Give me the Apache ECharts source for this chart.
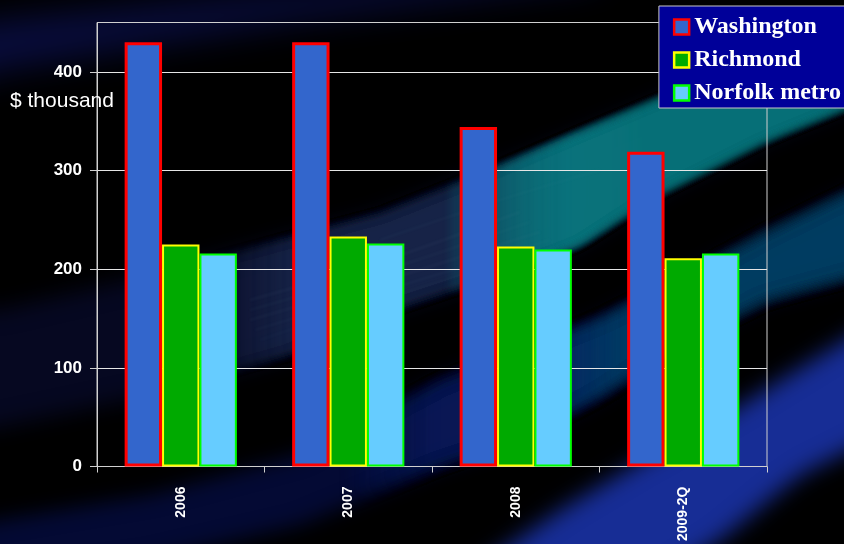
<!DOCTYPE html>
<html><head><meta charset="utf-8">
<script src="https://cdn.jsdelivr.net/npm/echarts@6/dist/echarts.min.js"></script>
<style>html,body{margin:0;padding:0;background:#000;}#c{width:844px;height:544px;}</style>
</head><body><div id="c"></div>
<script>
const categories = ['2006', '2007', '2008', '2009-2Q'];
const washington = [430, 430, 344, 319];
const richmond = [225, 233, 223, 211];
const norfolk = [216, 226, 220, 216];
const yTicks = [0, 100, 200, 300, 400];
const seriesNames = ['Washington', 'Richmond', 'Norfolk metro'];

const chart = echarts.init(document.getElementById('c'), null, {renderer: 'canvas'});

// ---- decorative background streaks (not data) ----
// shapes are drawn off-canvas; only their blurred shadow is visible
const OFF = 3000;
function interp(edge, x) {
  for (let i = 0; i < edge.length - 1; i++) {
    const a = edge[i], b = edge[i + 1];
    if (x >= a[0] && x <= b[0]) return a[1] + (b[1] - a[1]) * (x - a[0]) / (b[0] - a[0]);
  }
  return x < edge[0][0] ? edge[0][1] : edge[edge.length - 1][1];
}
function seg(up, lo, x0, x1, rgb, a, blur) {
  const top = [], bot = [];
  for (let x = x0; x < x1; x += 15) { top.push([x - OFF, interp(up, x)]); bot.push([x - OFF, interp(lo, x)]); }
  top.push([x1 - OFF, interp(up, x1)]); bot.push([x1 - OFF, interp(lo, x1)]);
  return {
    type: 'polygon', silent: true, z: -10,
    shape: {points: top.concat(bot.reverse())},
    style: {fill: 'rgb(' + rgb + ')', shadowColor: 'rgba(' + rgb + ',' + a + ')', shadowBlur: blur, shadowOffsetX: OFF}
  };
}
// stacked layers with staggered ends -> soft fade in/out along the band
function fade(up, lo, x0, x1, n, step, rgb, a, blur, fadeLeft, fadeRight) {
  const out = [];
  for (let i = 0; i < n; i++) {
    out.push(seg(up, lo, x0 + (fadeLeft ? i * step : 0), x1 - (fadeRight ? i * step : 0), rgb, a, blur));
  }
  return out;
}
function line(points, rgb, a, w, blur) {
  return {
    type: 'polyline', silent: true, z: -9,
    shape: {points: points.map(p => [p[0] - OFF, p[1]]), smooth: 0.3},
    style: {stroke: 'rgb(' + rgb + ')', lineWidth: w, fill: null,
      shadowColor: 'rgba(' + rgb + ',' + a + ')', shadowBlur: blur, shadowOffsetX: OFF}
  };
}
const upA = [[-60,312],[0,310],[150,275],[290,237],[380,213],[497,167],[580,132],[657,100],[767,55],[870,12]];
const loA = [[-60,435],[0,427],[150,395],[290,355],[380,315],[500,275],[580,245],[657,195],[767,140],[870,98]];
const upB = [[-60,532],[0,520],[150,495],[300,455],[440,380],[520,350],[600,318],[700,268],[767,232],[870,182]];
const loB = [[-60,592],[0,580],[150,560],[300,525],[440,467],[520,440],[600,397],[680,345],[767,300],[870,272]];
const upC = [[460,580],[560,510],[640,462],[720,418],[800,368],[870,325]];
const loC = [[460,640],[560,620],[640,590],[720,540],[800,475],[870,440]];
const upT = [[-60,30],[0,20],[300,-10],[600,-40]];
const loT = [[-60,90],[0,70],[300,20],[600,-20]];

const decor = [].concat(
  [seg(upT, loT, -60, 600, '14,20,95', 0.65, 35)],
  [seg(upA, loA, -60, 870, '16,22,95', 0.35, 22)],
  fade(upA, loA, 200, 640, 7, 15, '45,80,125', 0.08, 10, true, true),
  fade(upA, loA, 450, 870, 9, 14, '8,128,136', 0.2, 9, true, false),
  [seg(upB, loB, -60, 870, '8,18,95', 0.55, 20)],
  fade(upB, loB, 350, 660, 6, 15, '20,50,145', 0.08, 14, true, true),
  fade(upB, loB, 540, 870, 7, 15, '0,95,135', 0.12, 14, true, false),
  [seg(upC, loC, 460, 870, '25,50,165', 0.9, 22)],
  [
    line([[250,300],[380,262],[520,212]], '120,160,180', 0.1, 1.5, 3),
    line([[250,310],[380,272],[530,222]], '120,160,180', 0.08, 1.5, 3),
    line([[250,320],[380,282],[540,232]], '120,160,180', 0.09, 1.5, 3),
    line([[255,330],[380,292],[550,240]], '120,160,180', 0.07, 1.5, 3),
    line([[260,340],[380,300],[560,246]], '120,160,180', 0.06, 1.5, 3),
    line([[380,240],[500,200],[600,170]], '120,170,180', 0.07, 1.5, 3)
  ]
);

const option = {
  backgroundColor: '#000',
  animation: false,
  graphic: decor.concat([
    {
      type: 'text', left: 10, top: 91, z: 10,
      style: {text: '$ thousand', fill: '#ffffff', font: '21px "Liberation Sans", Arial, sans-serif'}
    }
  ]),
  grid: {left: 97, right: 77, top: 22.5, bottom: 76, containLabel: false,
    show: true, borderColor: '#d0d0d0', borderWidth: 1, backgroundColor: 'transparent'},
  legend: {
    orient: 'vertical', right: -3, top: 6,
    backgroundColor: '#000099', borderColor: '#c8c8c8', borderWidth: 1,
    padding: [9, 6, 3, 14], itemGap: 9, itemWidth: 15, itemHeight: 15,
    icon: 'rect',
    textStyle: {color: '#ffffff', fontFamily: '"Liberation Serif", "Times New Roman", serif', fontWeight: 'bold', fontSize: 24},
    data: [
      {name: seriesNames[0], itemStyle: {color: '#3366cc', borderColor: '#ff0000', borderWidth: 2.5}},
      {name: seriesNames[1], itemStyle: {color: '#00aa00', borderColor: '#ffff00', borderWidth: 2.5}},
      {name: seriesNames[2], itemStyle: {color: '#66ccff', borderColor: '#00ff00', borderWidth: 2.5}}
    ]
  },
  xAxis: {
    type: 'category', data: categories,
    axisLine: {lineStyle: {color: '#d0d0d0', width: 1}},
    axisTick: {show: true, length: 6, lineStyle: {color: '#d0d0d0'}},
    axisLabel: {rotate: 90, margin: 20, color: '#ffffff', fontWeight: 'bold', fontSize: 14,
      fontFamily: '"Liberation Sans", Arial, sans-serif'},
    splitLine: {show: false}
  },
  yAxis: {
    type: 'value', min: 0, max: 450, interval: 100,
    axisLine: {show: true, lineStyle: {color: '#d0d0d0', width: 1}},
    axisTick: {show: true, length: 7, customValues: yTicks, lineStyle: {color: '#d0d0d0'}},
    axisLabel: {margin: 15, color: '#ffffff', fontWeight: 'bold', fontSize: 17,
      fontFamily: '"Liberation Sans", Arial, sans-serif', customValues: yTicks},
    splitLine: {show: true, lineStyle: {color: '#e6e6e6', width: 1}}
  },
  series: [
    {name: seriesNames[0], type: 'bar', data: washington, barGap: '0%', barCategoryGap: '33%',
      itemStyle: {color: '#3366cc', borderColor: '#ff0000', borderWidth: 3}},
    {name: seriesNames[1], type: 'bar', data: richmond,
      itemStyle: {color: '#00aa00', borderColor: '#ffff00', borderWidth: 2}},
    {name: seriesNames[2], type: 'bar', data: norfolk,
      itemStyle: {color: '#66ccff', borderColor: '#00ff00', borderWidth: 2}}
  ]
};
chart.setOption(option);
</script></body></html>
